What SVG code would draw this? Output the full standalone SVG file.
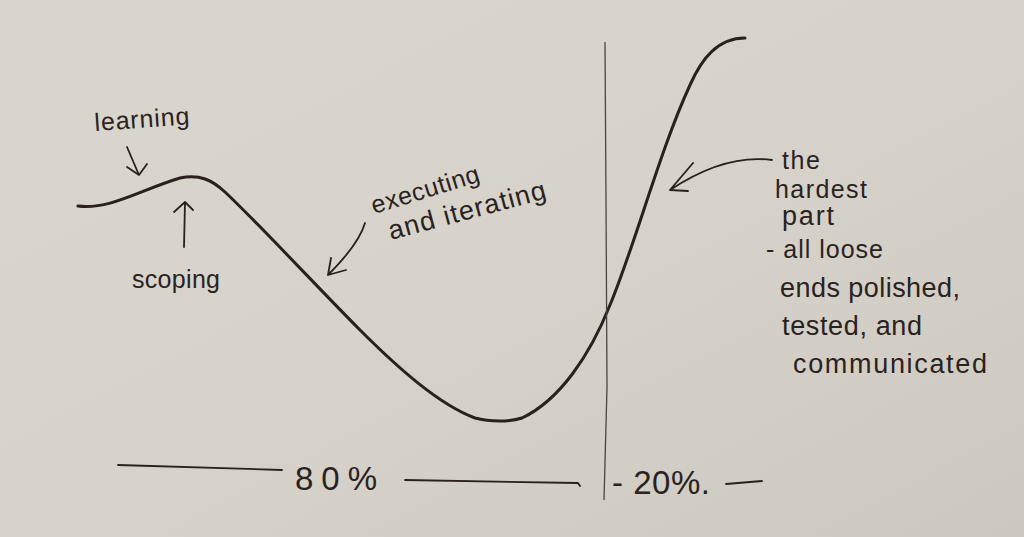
<svg xmlns="http://www.w3.org/2000/svg" width="1024" height="537" viewBox="0 0 1024 537">
  <defs>
    <linearGradient id="paper" x1="0" y1="0" x2="1" y2="1">
      <stop offset="0" stop-color="#dad6ce"/>
      <stop offset="0.5" stop-color="#d7d3cb"/>
      <stop offset="1" stop-color="#cdc8bf"/>
    </linearGradient>
    <style>
      .ink { fill: none; stroke: #2a201d; stroke-linecap: round; stroke-linejoin: round; }
      .curve { stroke-width: 3; }
      .pen { stroke-width: 1.8; }
      .thin { fill: none; stroke: #4a4542; stroke-width: 1.3; }
      .hand { font-family: "Liberation Sans", "DejaVu Sans", sans-serif; font-size: 25px; fill: #2a2220; }
      .wide { font-size: 27px; }
      .big { font-size: 33px; }
    </style>
  </defs>

  <rect width="1024" height="537" fill="url(#paper)"/>

  <g id="curve">
    <path class="ink curve" d="M 78 206 C 110 210, 140 190, 180 178 C 200 174, 212 180, 225 192 C 260 225, 320 290, 360 330 C 400 370, 440 405, 475 418 C 490 422, 510 422, 522 418 C 560 400, 590 355, 610 305 C 635 245, 660 150, 690 85 C 702 58, 718 38, 745 38"/>
  </g>

  <g id="divider">
    <path class="thin" d="M 605 42 L 606 200 L 607 387 L 604 500"/>
  </g>

  <g id="connectors">
    <path id="arrow-learning" class="ink pen" d="M 127 147 L 139 175 M 127 167 L 139 175 L 147 164"/>
    <path id="arrow-scoping" class="ink pen" d="M 184 247 L 185 202 M 174 212 L 185 202 L 193 210"/>
    <path id="arrow-executing" class="ink pen" d="M 365 223 C 360 240, 345 258, 328 275 M 331 258 L 328 275 L 346 270"/>
    <path id="arrow-hardest" class="ink pen" d="M 772 160 C 735 155, 700 170, 670 190 M 693 163 L 670 190 L 688 191"/>
  </g>

  <g id="label-learning">
    <text class="hand" x="95" y="131" textLength="95" transform="rotate(-4 95 131)">learning</text>
  </g>
  <g id="label-scoping">
    <text class="hand" x="132" y="288" textLength="88">scoping</text>
  </g>
  <g id="label-executing">
    <text class="hand" x="374" y="214" textLength="112" transform="rotate(-17 374 214)">executing</text>
    <text class="hand wide" x="391" y="240" textLength="162" transform="rotate(-15 391 240)">and iterating</text>
  </g>
  <g id="label-hardest">
    <text class="hand" x="782" y="169" textLength="38">the</text>
    <text class="hand" x="775" y="198" textLength="92">hardest</text>
    <text class="hand wide" x="782" y="225" textLength="52">part</text>
    <text class="hand" x="766" y="258" textLength="117">- all loose</text>
    <text class="hand wide" x="780" y="297" textLength="180">ends polished,</text>
    <text class="hand wide" x="782" y="335" textLength="140">tested, and</text>
    <text class="hand wide" x="793" y="373" textLength="194">communicated</text>
  </g>

  <g id="scale-80">
    <path class="ink pen" d="M 118 465 L 282 470"/>
    <text class="hand big" x="295" y="490" textLength="82">80%</text>
    <path class="ink pen" d="M 405 480 L 578 483 L 580 486"/>
  </g>
  <g id="scale-20">
    <text class="hand big" x="612" y="494" textLength="98">- 20%.</text>
    <path class="ink pen" d="M 726 484 L 762 481"/>
  </g>
</svg>
